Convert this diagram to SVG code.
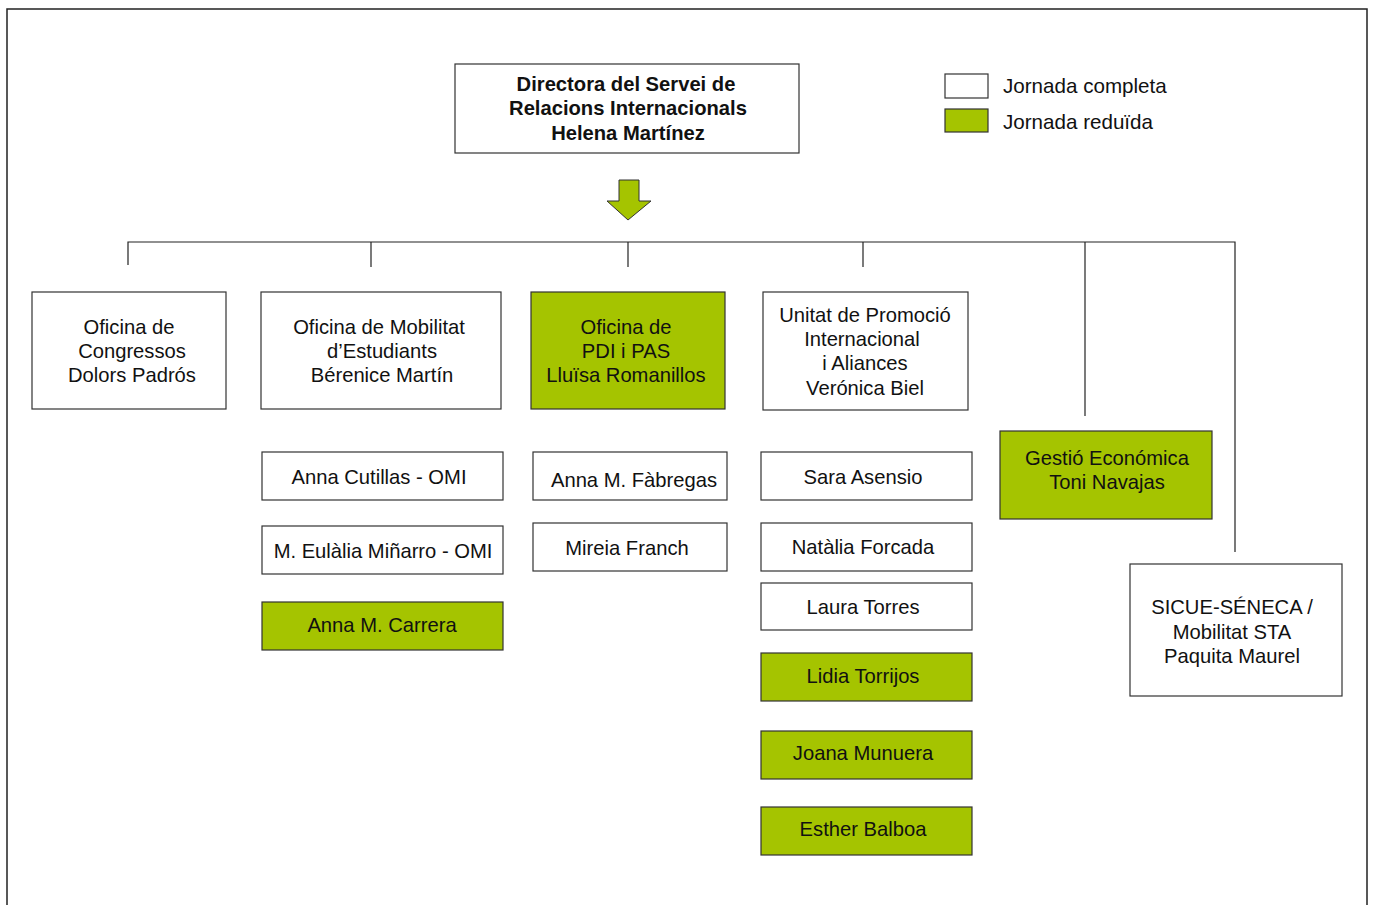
<svg xmlns="http://www.w3.org/2000/svg" width="1373" height="905" viewBox="0 0 1373 905">
<style>
text{font-family:"Liberation Sans",Arial,sans-serif;font-size:20.2px;fill:#111;text-anchor:middle}
.b{font-weight:bold}
.box{fill:#fff;stroke:#333;stroke-width:1.2}
.g{fill:#a5c400;stroke:#333;stroke-width:1.2}
.ln{stroke:#222;stroke-width:1.2;fill:none}
.lg{text-anchor:start;font-size:20.6px}
</style>
<rect width="1373" height="905" fill="#fff"/>
<path d="M7,905 V9 H1367 V905" fill="none" stroke="#222" stroke-width="1.5"/>
<g id="connectors">
<path class="ln" d="M128,265 V242 H1235 V552"/>
<path class="ln" d="M371,242 V267"/>
<path class="ln" d="M628,242 V267"/>
<path class="ln" d="M863,242 V267"/>
<path class="ln" d="M1085,242 V416"/>
<path d="M619,180 H639 V201 H651 L628,220 L607,201 H619 Z" fill="#a5c400" stroke="#333" stroke-width="1"/>
</g>
<g id="legend">
<rect class="box" x="945" y="74" width="43" height="24"/>
<rect class="g" x="945" y="109" width="43" height="23"/>
<text class="lg" x="1003" y="93">Jornada completa</text>
<text class="lg" x="1003" y="129">Jornada reduïda</text>
</g>
<g id="director">
<rect class="box" x="455" y="64" width="344" height="89"/>
<text class="b" x="626" y="91">Directora del Servei de</text>
<text class="b" x="628" y="115">Relacions Internacionals</text>
<text class="b" x="628" y="140">Helena Martínez</text>
</g>
<g id="congressos">
<rect class="box" x="32" y="292" width="194" height="117"/>
<text x="129" y="334">Oficina de</text>
<text x="132" y="358">Congressos</text>
<text x="132" y="382">Dolors Padrós</text>
</g>
<g id="mobilitat">
<rect class="box" x="261" y="292" width="240" height="117"/>
<text x="379" y="334">Oficina de Mobilitat</text>
<text x="382" y="358">d’Estudiants</text>
<text x="382" y="382">Bérenice Martín</text>
</g>
<g id="pdipas">
<rect class="g" x="531" y="292" width="194" height="117"/>
<text x="626" y="334">Oficina de</text>
<text x="626" y="358">PDI i PAS</text>
<text x="626" y="382">Lluïsa Romanillos</text>
</g>
<g id="unitat">
<rect class="box" x="763" y="292" width="205" height="118"/>
<text x="865" y="322">Unitat de Promoció</text>
<text x="862" y="346">Internacional</text>
<text x="865" y="370">i Aliances</text>
<text x="865" y="395">Verónica Biel</text>
</g>
<g id="cutillas">
<rect class="box" x="262" y="452" width="241" height="48"/>
<text x="379" y="484">Anna Cutillas - OMI</text>
</g>
<g id="minarro">
<rect class="box" x="262" y="526" width="241" height="48"/>
<text x="383" y="558">M. Eulàlia Miñarro - OMI</text>
</g>
<g id="carrera">
<rect class="g" x="262" y="602" width="241" height="48"/>
<text x="382" y="632">Anna M. Carrera</text>
</g>
<g id="fabregas">
<rect class="box" x="533" y="452" width="194" height="48"/>
<text x="634" y="487">Anna M. Fàbregas</text>
</g>
<g id="franch">
<rect class="box" x="533" y="523" width="194" height="48"/>
<text x="627" y="555">Mireia Franch</text>
</g>
<g id="asensio">
<rect class="box" x="761" y="452" width="211" height="48"/>
<text x="863" y="484">Sara Asensio</text>
</g>
<g id="forcada">
<rect class="box" x="761" y="523" width="211" height="48"/>
<text x="863" y="554">Natàlia Forcada</text>
</g>
<g id="torres">
<rect class="box" x="761" y="583" width="211" height="47"/>
<text x="863" y="614">Laura Torres</text>
</g>
<g id="torrijos">
<rect class="g" x="761" y="653" width="211" height="48"/>
<text x="863" y="683">Lidia Torrijos</text>
</g>
<g id="munuera">
<rect class="g" x="761" y="731" width="211" height="48"/>
<text x="863" y="760">Joana Munuera</text>
</g>
<g id="balboa">
<rect class="g" x="761" y="807" width="211" height="48"/>
<text x="863" y="836">Esther Balboa</text>
</g>
<g id="gestio">
<rect class="g" x="1000" y="431" width="212" height="88"/>
<text x="1107" y="465">Gestió Económica</text>
<text x="1107" y="489">Toni Navajas</text>
</g>
<g id="sicue">
<rect class="box" x="1130" y="564" width="212" height="132"/>
<text x="1232" y="614">SICUE-SÉNECA /</text>
<text x="1232" y="639">Mobilitat STA</text>
<text x="1232" y="663">Paquita Maurel</text>
</g>
</svg>
